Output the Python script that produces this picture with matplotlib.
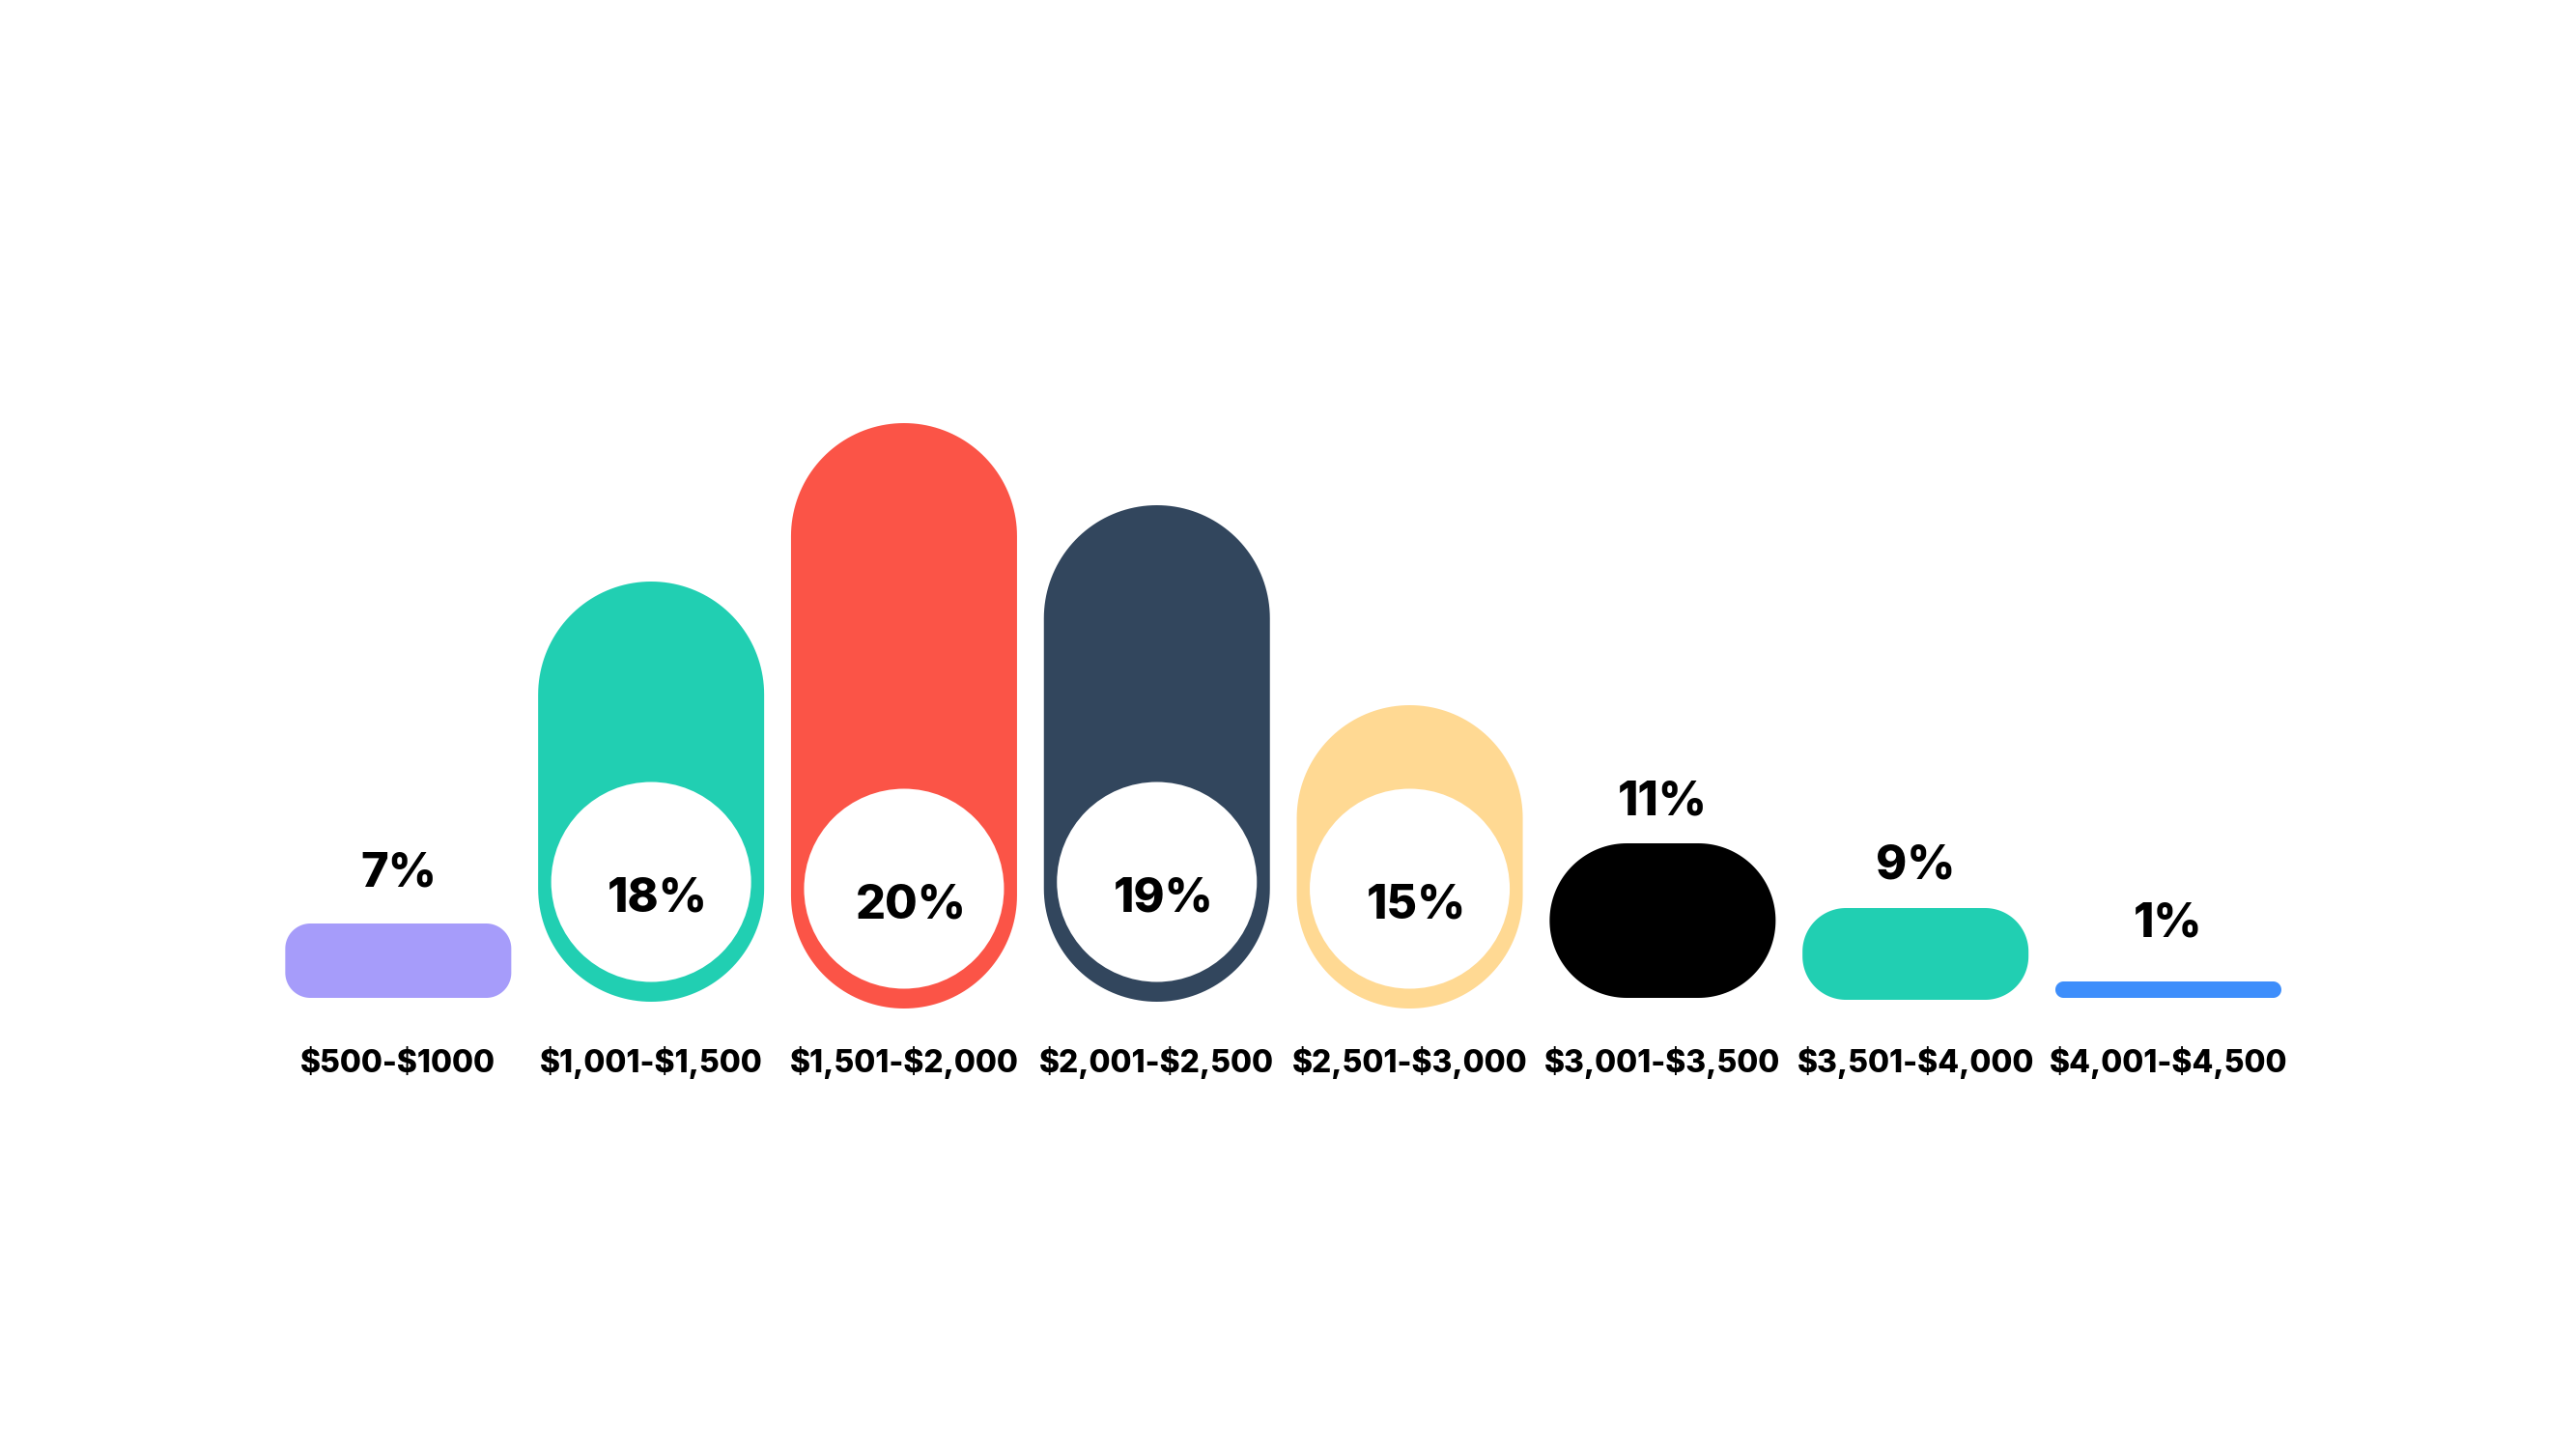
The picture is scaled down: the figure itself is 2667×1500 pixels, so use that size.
import numpy as np
import matplotlib
matplotlib.use("Agg")
import matplotlib.pyplot as plt
from matplotlib.patches import Ellipse, Polygon

# ---------------- data ----------------
categories = ["$500-$1000", "$1,001-$1,500", "$1,501-$2,000", "$2,001-$2,500",
              "$2,501-$3,000", "$3,001-$3,500", "$3,501-$4,000", "$4,001-$4,500"]
shares = [7, 18, 20, 19, 15, 11, 9, 1]                 # percent labels
bar_lengths = [77, 435, 606, 514, 314, 160, 95, 17]    # drawn bar length (chart units)
bar_starts = [0, -4, -11, -4, -11, 0, -2, 0]           # where each bar starts (chart units)
ringed = [False, True, True, True, True, False, False, False]

# ---------------- styles ----------------
colors = ["#A69CFA", "#21CFB2", "#FB5447", "#32465D",
          "#FFD993", "#000000", "#21CFB2", "#3E8EFB"]
corner_px = [26, 117, 117, 117, 117, 80, 45, 8.5]
label_gap_px = [38, 0, 0, 0, 0, 30, 31, 47]
bar_width_px = 234
hole_d_px = 207
hole_rise_px = 124
FONT = ["Inter", "DejaVu Sans"]

W, H = 2667, 1500
fig = plt.figure(figsize=(W / 100, H / 100), dpi=100)
fig.patch.set_facecolor("white")
ax = fig.add_axes([0, 0, 1, 1])
ax.set_xlim(-1.575, 8.612)
ax.set_ylim(-467, 1033)
ax.axis("off")

px_x = W / (ax.get_xlim()[1] - ax.get_xlim()[0])   # pixels per x unit
px_y = H / (ax.get_ylim()[1] - ax.get_ylim()[0])   # pixels per y unit


def rounded_bar(xc, y0, h, color, r_px):
    w = bar_width_px / px_x
    r = min(r_px, bar_width_px / 2, h * px_y / 2)
    rx, ry = r / px_x, r / px_y
    x0, x1 = xc - w / 2, xc + w / 2
    y1 = y0 + h
    t = np.linspace(0, np.pi / 2, 40)
    pts = []
    for (cx, cy, a0) in [(x1 - rx, y1 - ry, 0), (x0 + rx, y1 - ry, np.pi / 2),
                         (x0 + rx, y0 + ry, np.pi), (x1 - rx, y0 + ry, 1.5 * np.pi)]:
        pts.append(np.column_stack([cx + rx * np.cos(t + a0), cy + ry * np.sin(t + a0)]))
    ax.add_patch(Polygon(np.vstack(pts), closed=True, facecolor=color,
                         edgecolor="none", zorder=2))


xs = np.arange(len(categories))
for i, x in enumerate(xs):
    y0 = bar_starts[i]
    h = bar_lengths[i]
    rounded_bar(x, y0, h, colors[i], corner_px[i])
    if ringed[i]:
        cy = y0 + hole_rise_px / px_y
        ax.add_patch(Ellipse((x, cy), hole_d_px / px_x, hole_d_px / px_y,
                             facecolor="white", edgecolor="none", zorder=3))
        ax.text(x + 7 / px_x, cy - 30.5 / px_y, f"{shares[i]}%", ha="center",
                va="baseline", fontsize=35, fontweight="heavy", family=FONT,
                color="black", zorder=4)
    else:
        ax.text(x, y0 + h + label_gap_px[i] / px_y, f"{shares[i]}%", ha="center",
                va="baseline", fontsize=35, fontweight="heavy", family=FONT,
                color="black", zorder=4)
    ax.text(x, -77 / px_y, categories[i], ha="center", va="baseline",
            fontsize=23, fontweight="heavy", family=FONT, color="black",
            zorder=4, parse_math=False)

fig.savefig("out.png", dpi=100, facecolor="white")
